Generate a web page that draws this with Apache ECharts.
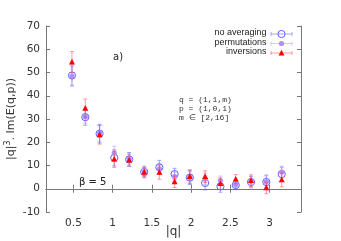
<!DOCTYPE html>
<html><head><meta charset="utf-8">
<script src="https://cdn.jsdelivr.net/npm/echarts@6/dist/echarts.min.js"></script>
<style>html,body{margin:0;padding:0;background:#fff}#c{width:341px;height:241px}</style>
</head><body><div id="c"></div>
<script>
// |q| for m = 2..16
const qVals = [0.481, 0.651, 0.833, 1.020, 1.210, 1.402, 1.595, 1.789, 1.983, 2.178, 2.373, 2.568, 2.763, 2.958, 3.154];
const noAvg     = [48.7, 30.8, 23.7, 13.3, 12.6, 7.2, 9.2, 6.3, 4.8, 2.5, 1.0, 1.6, 2.9, 2.9, 6.3];
const noAvgErr  = [4.5, 3.5, 4.0, 3.5, 3.0, 2.5, 3.0, 2.5, 3.0, 3.0, 2.5, 2.0, 2.5, 3.0, 3.0];
const perm      = [48.5, 31.0, 23.9, 15.3, 12.8, 7.3, 8.6, 5.2, 5.0, 4.2, 3.5, 1.8, 3.3, 3.0, 7.2];
const permErr   = [4.0, 3.0, 3.5, 3.0, 2.5, 2.0, 2.5, 2.0, 2.5, 2.5, 2.0, 1.5, 2.0, 2.5, 2.5];
const inv       = [54.5, 34.6, 23.2, 12.7, 12.3, 7.1, 7.1, 3.0, 5.2, 5.2, 2.2, 4.1, 3.5, 0.4, 3.8];
const invErr    = [4.5, 4.0, 4.0, 3.5, 2.5, 2.0, 3.0, 2.5, 3.0, 2.5, 2.5, 2.0, 2.5, 2.5, 3.0];
const xTicks = [0.5, 1, 1.5, 2, 2.5, 3];
const seriesNames = ['no averaging', 'permutations', 'inversions'];

const C_BLUE = '#5f5fff', C_BLUE_E = 'rgba(95,95,255,0.55)';
const C_PURP = '#b48cff', C_PURP_E = 'rgba(180,140,255,0.5)';
const C_RED = '#ff0000', C_RED_E = 'rgba(255,60,60,0.5)';

function symbolShape(kind, cx, cy, color) {
  if (kind === 'open') return {type:'circle', shape:{cx, cy, r:3.6}, style:{fill:'none', stroke:color, lineWidth:1}};
  if (kind === 'fill') return {type:'circle', shape:{cx, cy, r:2.6}, style:{fill:color, stroke:null}};
  return {type:'polygon', shape:{points:[[cx, cy-3.2],[cx-3, cy+2.4],[cx+3, cy+2.4]]}, style:{fill:color, stroke:null}};
}
function render(color, errColor, kind) {
  return function (params, api) {
    const x = api.value(0), y = api.value(1), e = api.value(2);
    const p = api.coord([x, y]), t = api.coord([x, y + e]), b = api.coord([x, y - e]);
    const cw = 2;
    const ls = {stroke: errColor, lineWidth: 1};
    return {type:'group', children:[
      {type:'line', shape:{x1:p[0], y1:t[1], x2:p[0], y2:b[1]}, style:ls},
      {type:'line', shape:{x1:p[0]-cw, y1:t[1], x2:p[0]+cw, y2:t[1]}, style:ls},
      {type:'line', shape:{x1:p[0]-cw, y1:b[1], x2:p[0]+cw, y2:b[1]}, style:ls},
      symbolShape(kind, p[0], p[1], color)
    ]};
  };
}
const mk = (vals, errs) => qVals.map((q, i) => [q, vals[i], errs[i]]);

function legendRow(y, name, color, errColor, kind) {
  const x1 = 271, x2 = 292, xm = 281.5;
  return [
    {type:'text', right: 341 - 266.5, top: y - 5.5, style:{text:name, fontFamily:'Liberation Sans', fontSize:9, fill:'#222', align:'right'}},
    {type:'line', shape:{x1, y1:y, x2, y2:y}, style:{stroke:errColor, lineWidth:1}},
    {type:'line', shape:{x1, y1:y-2, x2:x1, y2:y+2}, style:{stroke:errColor, lineWidth:1}},
    {type:'line', shape:{x1:x2, y1:y-2, x2:x2, y2:y+2}, style:{stroke:errColor, lineWidth:1}},
    symbolShape(kind, xm, y, color)
  ];
}

const axisCommon = {
  axisLine:{show:true, lineStyle:{color:'#777', width:1}},
  axisTick:{show:true, inside:true, length:4, lineStyle:{color:'#777'}},
  splitLine:{show:false}
};
const labelStyle = {fontFamily:'DejaVu Sans', fontSize:10.5, color:'#333'};

const chart = echarts.init(document.getElementById('c'), null, {renderer:'canvas'});
chart.setOption({
  animation:false,
  backgroundColor:'#fff',
  grid:{left:46, right:40, top:26, bottom:29, containLabel:false, outerBoundsMode:'none'},
  xAxis:[
    Object.assign({}, axisCommon, {type:'value', min:0.15, max:3.4, position:'bottom',
      name:'|q|', nameLocation:'middle', nameGap:14, nameMoveOverlap:false,
      nameTextStyle:{fontFamily:'DejaVu Sans', fontSize:12, color:'#333'},
      axisTick:Object.assign({}, axisCommon.axisTick, {customValues:xTicks}),
      axisLabel:Object.assign({}, labelStyle, {customValues:xTicks, margin:6, formatter:v=>String(v)})}),
    Object.assign({}, axisCommon, {type:'value', min:0.15, max:3.4, position:'top',
      axisTick:Object.assign({}, axisCommon.axisTick, {customValues:xTicks}),
      axisLabel:{show:false, customValues:xTicks}})
  ],
  yAxis:[
    Object.assign({}, axisCommon, {type:'value', min:-10, max:70, interval:10, position:'left',
      name:'{a||q|}{s|3}{a|. Im(E(q,p))}', nameLocation:'middle', nameGap:28, nameRotate:90, nameMoveOverlap:false,
      nameTextStyle:{fontFamily:'DejaVu Sans', fontSize:11, color:'#333',
        rich:{a:{fontFamily:'DejaVu Sans', fontSize:11, color:'#333'}, s:{fontFamily:'DejaVu Sans', fontSize:8, color:'#333', verticalAlign:'top', padding:[0,0,6,0]}}},
      axisLabel:Object.assign({}, labelStyle, {margin:6})}),
    Object.assign({}, axisCommon, {type:'value', min:-10, max:70, interval:10, position:'right',
      axisLabel:{show:false}})
  ],
  graphic:[
    {type:'text', left:113, top:52, style:{text:'a)', fontFamily:'DejaVu Sans', fontSize:10, fill:'#222'}},
    {type:'text', left:179, top:95, style:{text:'q = (1,1,m)\np = (1,0,1)\nm \u2208 [2,16]', fontFamily:'Liberation Mono', fontSize:8, lineHeight:9, fill:'#333'}},
    {type:'text', left:79, top:177, style:{text:'\u03b2 = 5', fontFamily:'DejaVu Sans', fontSize:10, fill:'#222'}},
    ...legendRow(34, seriesNames[0], C_BLUE, C_BLUE_E, 'open'),
    ...legendRow(43.5, seriesNames[1], C_PURP, C_PURP_E, 'fill'),
    ...legendRow(53, seriesNames[2], C_RED, C_RED_E, 'tri')
  ],
  series:[
    {type:'custom', name:seriesNames[0], data:mk(noAvg, noAvgErr), renderItem:render(C_BLUE, C_BLUE_E, 'open'), z:2},
    {type:'custom', name:seriesNames[1], data:mk(perm, permErr), renderItem:render(C_PURP, C_PURP_E, 'fill'), z:3},
    {type:'custom', name:seriesNames[2], data:mk(inv, invErr), renderItem:render(C_RED, C_RED_E, 'tri'), z:4}
  ]
});
</script></body></html>
